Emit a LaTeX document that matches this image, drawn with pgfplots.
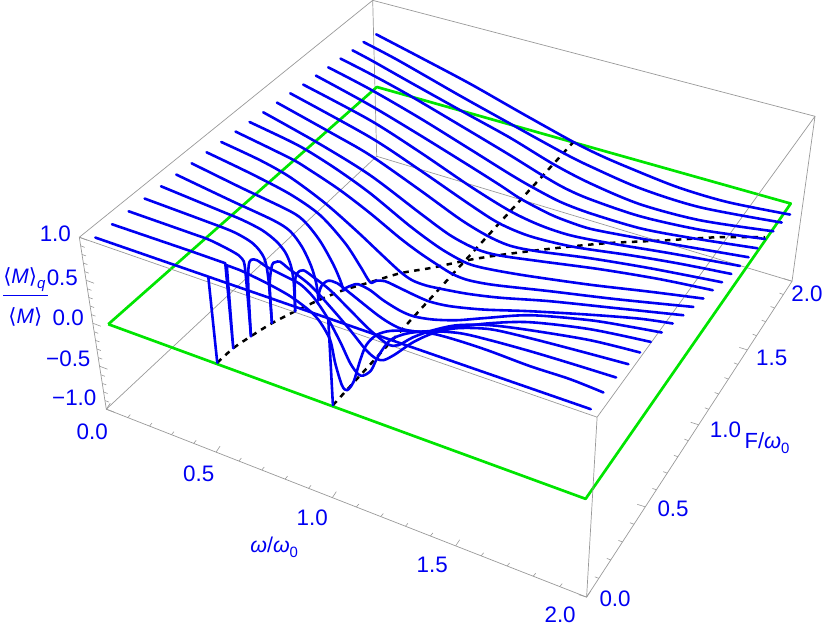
\documentclass[border=0pt]{standalone}
\usepackage{fontspec}
\setmainfont{Liberation Sans}
\newfontfamily\djv{DejaVu Sans}
\usepackage{pgfplots}
\pgfplotsset{compat=1.18}
\definecolor{bl}{rgb}{0,0,0.95}
\definecolor{gr}{rgb}{0,0.9,0}
\definecolor{bx}{gray}{0.6}
\newcommand{\lab}[1]{\fontsize{22.5}{24}\selectfont\textcolor{bl}{#1}}
\newcommand{\sub}[1]{\raisebox{-0.25em}{\fontsize{15}{15}\selectfont #1}}
\begin{document}
\begin{tikzpicture}
\begin{axis}[
  scale only axis, width=830bp, height=629bp,
  xmin=0, xmax=830, ymin=0, ymax=629, y dir=reverse,
  axis lines=none, clip=false, unbounded coords=jump,
  cv/.style={bl, line width=2.6bp, smooth, tension=0.5, line cap=round, line join=round},
  sp/.style={bl, line width=2.6bp, sharp plot, line cap=round, line join=round},
  dsh/.style={black, line width=2.5bp, smooth, tension=0.4, dash pattern=on 5.5bp off 5.5bp},
  every axis plot/.append style={no markers},
]
\addplot[draw=none] coordinates {(0,0)(830,629)};
% box
\addplot[bx, line width=0.7bp] coordinates {(376.5,156)(792,281) (0,nan) (376.5,156)(106,409) (0,nan) (376.5,156)(372.5,0)};
% green rectangle
\addplot[gr, line width=2.7bp, line join=round] coordinates {(108,324)(376.7,86.7)(790.7,203.3)(585.5,498.7)(108,324)};
% zero contours
\addplot[dsh] coordinates {(217,362.5)(233,348)(250.7,336)(271.7,323)(295,311)(318.3,300)(343,290)(370,282)(400,273)(432,267.5)(467,260)(498,255)(537,250)(573,246)(610,242.7)(667,240)(717,237)(765,237)};
\addplot[dsh] coordinates {(332.7,405)(346.8,389.6)(360.7,374.4)(374.3,359.5)(387.7,344.8)(400.9,330.4)(413.9,316.2)(426.7,302.2)(439.4,288.3)(451.7,274.8)(463.8,261.6)(475.7,248.6)(487.5,235.7)(498.9,223.2)(510.2,210.8)(521.2,198.8)(532.1,186.8)(542.7,175.3)(553.2,163.8)(563.3,152.7)(573.3,141.7)};
% box outer
\addplot[bx, line width=0.7bp] coordinates {(79,237)(372.5,0)(815,116)(597,417)(79,237)(106,409)(586.5,597)(792,281)(815,116) (0,nan) (597,417)(586.5,597)};
% ticks omega
\addplot[bx, line width=0.6bp] coordinates {
(106,409)(110,403) (0,nan) (127.5,417.4)(130,414.4) (0,nan) (149.2,425.9)(151.7,422.9) (0,nan) (171.2,434.5)(173.7,431.5) (0,nan) (193.4,443.2)(195.9,440.2) (0,nan) (215.8,452)(219.8,446) (0,nan) (238.6,460.9)(241.1,457.9) (0,nan) (261.5,469.9)(264,466.9) (0,nan) (284.8,479)(287.3,476) (0,nan) (308.3,488.2)(310.8,485.2) (0,nan) (332.1,497.5)(336.1,491.5) (0,nan) (356.1,506.9)(358.6,503.9) (0,nan) (380.6,516.4)(383.1,513.4) (0,nan) (405.3,526.1)(407.8,523.1) (0,nan) (430.2,535.8)(432.7,532.8) (0,nan) (455.5,545.7)(459.5,539.7) (0,nan) (481,555.7)(483.5,552.7) (0,nan) (506.9,565.9)(509.4,562.9) (0,nan) (533.1,576.1)(535.6,573.1) (0,nan) (559.6,586.5)(562.1,583.5) (0,nan) (586.5,597)(590.5,591)};
% ticks F
\addplot[bx, line width=0.6bp] coordinates {
(586.5,597)(578.5,594.5) (0,nan) (598.7,578.2)(594.7,576.7) (0,nan) (610.7,559.8)(606.7,558.3) (0,nan) (622.4,541.8)(618.4,540.3) (0,nan) (633.9,524.1)(629.9,522.6) (0,nan) (645.2,506.7)(637.2,504.2) (0,nan) (656.3,489.7)(652.3,488.2) (0,nan) (667.2,473)(663.2,471.5) (0,nan) (677.8,456.6)(673.8,455.1) (0,nan) (688.3,440.5)(684.3,439) (0,nan) (698.6,424.6)(690.6,422.1) (0,nan) (708.7,409.1)(704.7,407.6) (0,nan) (718.6,393.8)(714.6,392.3) (0,nan) (728.4,378.9)(724.4,377.4) (0,nan) (737.9,364.2)(733.9,362.7) (0,nan) (747.3,349.7)(739.3,347.2) (0,nan) (756.6,335.5)(752.6,334) (0,nan) (765.7,321.5)(761.7,320) (0,nan) (774.6,307.8)(770.6,306.3) (0,nan) (783.4,294.3)(779.4,292.8) (0,nan) (792,281)(784,278.5)};
% ticks z
\addplot[bx, line width=0.6bp] coordinates {
(106,409)(114,412) (0,nan) (104.65,400.4)(108.65,401.9) (0,nan) (103.3,391.8)(107.3,393.3) (0,nan) (101.95,383.2)(105.95,384.7) (0,nan) (100.6,374.6)(104.6,376.1) (0,nan) (99.25,366)(107.25,369) (0,nan) (97.9,357.4)(101.9,358.9) (0,nan) (96.55,348.8)(100.55,350.3) (0,nan) (95.2,340.2)(99.2,341.7) (0,nan) (93.85,331.6)(97.85,333.1) (0,nan) (92.5,323)(100.5,326) (0,nan) (91.15,314.4)(95.15,315.9) (0,nan) (89.8,305.8)(93.8,307.3) (0,nan) (88.45,297.2)(92.45,298.7) (0,nan) (87.1,288.6)(91.1,290.1) (0,nan) (85.75,280)(93.75,283) (0,nan) (84.4,271.4)(88.4,272.9) (0,nan) (83.05,262.8)(87.05,264.3) (0,nan) (81.7,254.2)(85.7,255.7) (0,nan) (80.35,245.6)(84.35,247.1) (0,nan) (79,237)(87,240)};
% curves
\addplot[cv] coordinates {(376,34)(420,57)(470,83.5)(520,112)(573.3,141.7)(600,155)(627,166.7)(677,186.7)(727,201.7)(790,214.3)};
\addplot[cv] coordinates {(363.3,41.7)(398,60)(460,95.5)(513,125)(563.3,152.7)(590,166)(640,188)(700,207)(781.7,222.3)};
\addplot[cv] coordinates {(352.3,50)(372,60.5)(410,82)(463.3,111.7)(510,137.5)(553.2,163.8)(590,183)(640,204)(700,220)(773.3,231)};
\addplot[cv] coordinates {(340.3,58.3)(370,73.5)(410,95.5)(470,131)(510,155)(542.7,175.3)(565,188)(590,199)(640,216)(700,229.5)(765,238.7)};
\addplot[cv] coordinates {(328,67)(370,89)(420,118)(470,149)(510,174)(532,186.8)(560,201.5)(590,213)(640,228)(690,237.5)(757.3,248)};
\addplot[cv] coordinates {(315.7,75.3)(370,105)(420,135)(470,166)(500,185)(521,198.8)(550,214)(570,222)(590,228.5)(620,234.5)(670,243.5)(748.5,257)};
\addplot[cv] coordinates {(303,84.3)(370,120)(420,152)(470,186)(510,210.8)(540,225)(570,235)(610,243)(670,253)(740,265.7)};
\addplot[cv] coordinates {(290,93)(370,137)(420,170)(470,204.5)(499,223)(530,236)(573,246.5)(630,255)(680,263.5)(731.3,273.7)};
\addplot[cv] coordinates {(276.7,102.3)(330,132)(370,155)(420,190)(460,219)(487.5,235.7)(510,245.5)(537,251)(590,258)(650,268)(722,282)};
\addplot[cv] coordinates {(263,112)(320,144)(370,175)(420,213)(450,235)(475.7,248.6)(498,255)(540,261)(600,269)(660,279)(712.7,290)};
\addplot[cv] coordinates {(249.3,121.7)(290,141)(310,152)(338,170)(370,193)(410,226)(440,248)(463.8,261.6)(478,266.5)(500,271)(530,276)(590,284.5)(650,291.5)(703.3,298.3)};
\addplot[cv] coordinates {(235.3,131.3)(290,158)(310,170)(340,190)(370,213)(400,238)(420,253)(438,265)(451.7,273.5)(465,279)(480,282.5)(500,285.5)(550,291)(616.7,299)(693.3,306.7)};
\addplot[cv] coordinates {(221,141.7)(260,160)(290,177)(325,203)(356.7,231)(380,253)(400,271.5)(412,280)(425,285)(439.4,288.3)(467,293.5)(500,297.5)(550,301)(616.7,308)(683.3,315)};
\addplot[cv] coordinates {(206.3,152)(250,173)(290,194)(320,215)(345,243)(360,266)(370,282)(376,280.5)(385,281)(400,288)(416.7,296)(430,301.5)(450,306)(483,309.3)(530,311)(590,314.5)(640,318.5)(672.7,323.3)};
\addplot[cv] coordinates {(191.3,163)(240,187)(290,211)(305,222)(320,241)(333,264)(340,280)(343.3,290)};
\addplot[cv] coordinates {(343.3,290)(346,287.5)(352,285)(358,284)(370,290)(383,300)(400,310.5)(413.9,316.2)(433,319.3)(456.7,320)(483,318)(530,315)(590,320)(630,326.5)(661.7,332.3)};
\addplot[cv] coordinates {(176,174.3)(230,200)(273,220)(290,231)(302,247)(311,266)(316,283)(318.3,300)};
\addplot[cv] coordinates {(318.3,300)(319,292)(321.7,285)(328,280.5)(337,283)(350,293)(375,313)(388,322)(400.9,328.5)(417,331.5)(433,331)(457,327)(490,323)(530,322)(590,329)(650.7,341.7)};
\addplot[cv] coordinates {(160.7,186)(220,210.5)(241.7,219.5)(262,230)(276,241)(285,252)(290.5,265)(293.5,282)(295,311)};
\addplot[cv] coordinates {(295,311)(294.5,285)(296.7,273.3)(303,270)(313,276.7)(330,290)(350,310)(370,330)(387.7,344)(398,345)(413,337)(433,330)(457,325)(490,325)(530,330)(590,340)(640,352.3)};
\addplot[cv] coordinates {(144.3,198.3)(203,220)(233.3,231.7)(253,243.5)(264,258)(268.3,280)(271.7,322.7)};
\addplot[cv] coordinates {(271.7,322.7)(269.5,285)(271.7,265)(275,262)(280,261.5)(288,268)(310,285)(333,310)(350,330)(366,350)(376,358.5)(383.3,360)(390,357)(396.7,353)(413,342)(433,333)(457,328)(490,329)(530,338)(580,351)(628.3,364)};
\addplot[cv] coordinates {(128.3,211)(190,232.7)(210,240)(233,251.7)(241.7,258.3)(245,270)(250.7,336)};
\addplot[cv] coordinates {(250.7,336)(248,285)(248.5,265)(251,259.5)(256.7,260)(266.7,266.7)(285,276)(300,284)(313,296.7)(326.7,316.7)(340,341.7)(350,363)(358,374)(363.3,375.3)(371,370)(378,356)(390,340)(406.7,333.3)(430,331)(460,333)(490,340)(530,351)(570,363)(616,377.3)};
\addplot[sp] coordinates {(111.7,224)(190,250.7)(225,263)(233,348)(226.5,265)(240,270)};
\addplot[cv] coordinates {(240,270)(266.7,283)(290,296)(310,311)(320,322)(330,340)(335,363)(341.7,385)(346.8,390)(353.3,381.7)(360,360)(366,345)(376,335)(390,330.7)(413,331)(435,334)(460,341)(490,351)(530,366)(570,379)(603.3,392.3)};
\addplot[sp] coordinates {(95,237.3)(208,276.4)(217,362.5)(208,276.4)(328,318)(332.7,405)(328,318)(590.7,409)};
% labels
\node at (axis cs:55,234) {\lab{1.0}};
\node at (axis cs:62,278) {\lab{0.5}};
\node at (axis cs:68,318) {\lab{0.0}};
\node at (axis cs:68,359) {\lab{−0.5}};
\node at (axis cs:74,398) {\lab{−1.0}};
\node at (axis cs:92,432) {\lab{0.0}};
\node at (axis cs:198.5,474) {\lab{0.5}};
\node at (axis cs:312,518) {\lab{1.0}};
\node at (axis cs:432,565) {\lab{1.5}};
\node at (axis cs:560,615) {\lab{2.0}};
\node at (axis cs:615,599) {\lab{0.0}};
\node at (axis cs:673,509) {\lab{0.5}};
\node at (axis cs:725.5,430) {\lab{1.0}};
\node at (axis cs:771.7,358) {\lab{1.5}};
\node at (axis cs:807,294) {\lab{2.0}};
\node at (axis cs:274,547) {\fontsize{21.5}{23}\selectfont\textcolor{bl}{\textit{ω}/\textit{ω}\sub{0}}};
\node at (axis cs:767,443) {\fontsize{22}{24}\selectfont\textcolor{bl}{F/\textit{ω}\sub{0}}};
\node at (axis cs:24,279) {\fontsize{21}{23}\selectfont\textcolor{bl}{{\djv ⟨}\textit{M}{\djv ⟩}\sub{\textit{q}}}};
\node at (axis cs:25,317) {\fontsize{21}{23}\selectfont\textcolor{bl}{{\djv ⟨}\textit{M}{\djv ⟩}}};
\addplot[bl, line width=1.1bp] coordinates {(3,295)(48,295)};
\end{axis}
\end{tikzpicture}
\end{document}
